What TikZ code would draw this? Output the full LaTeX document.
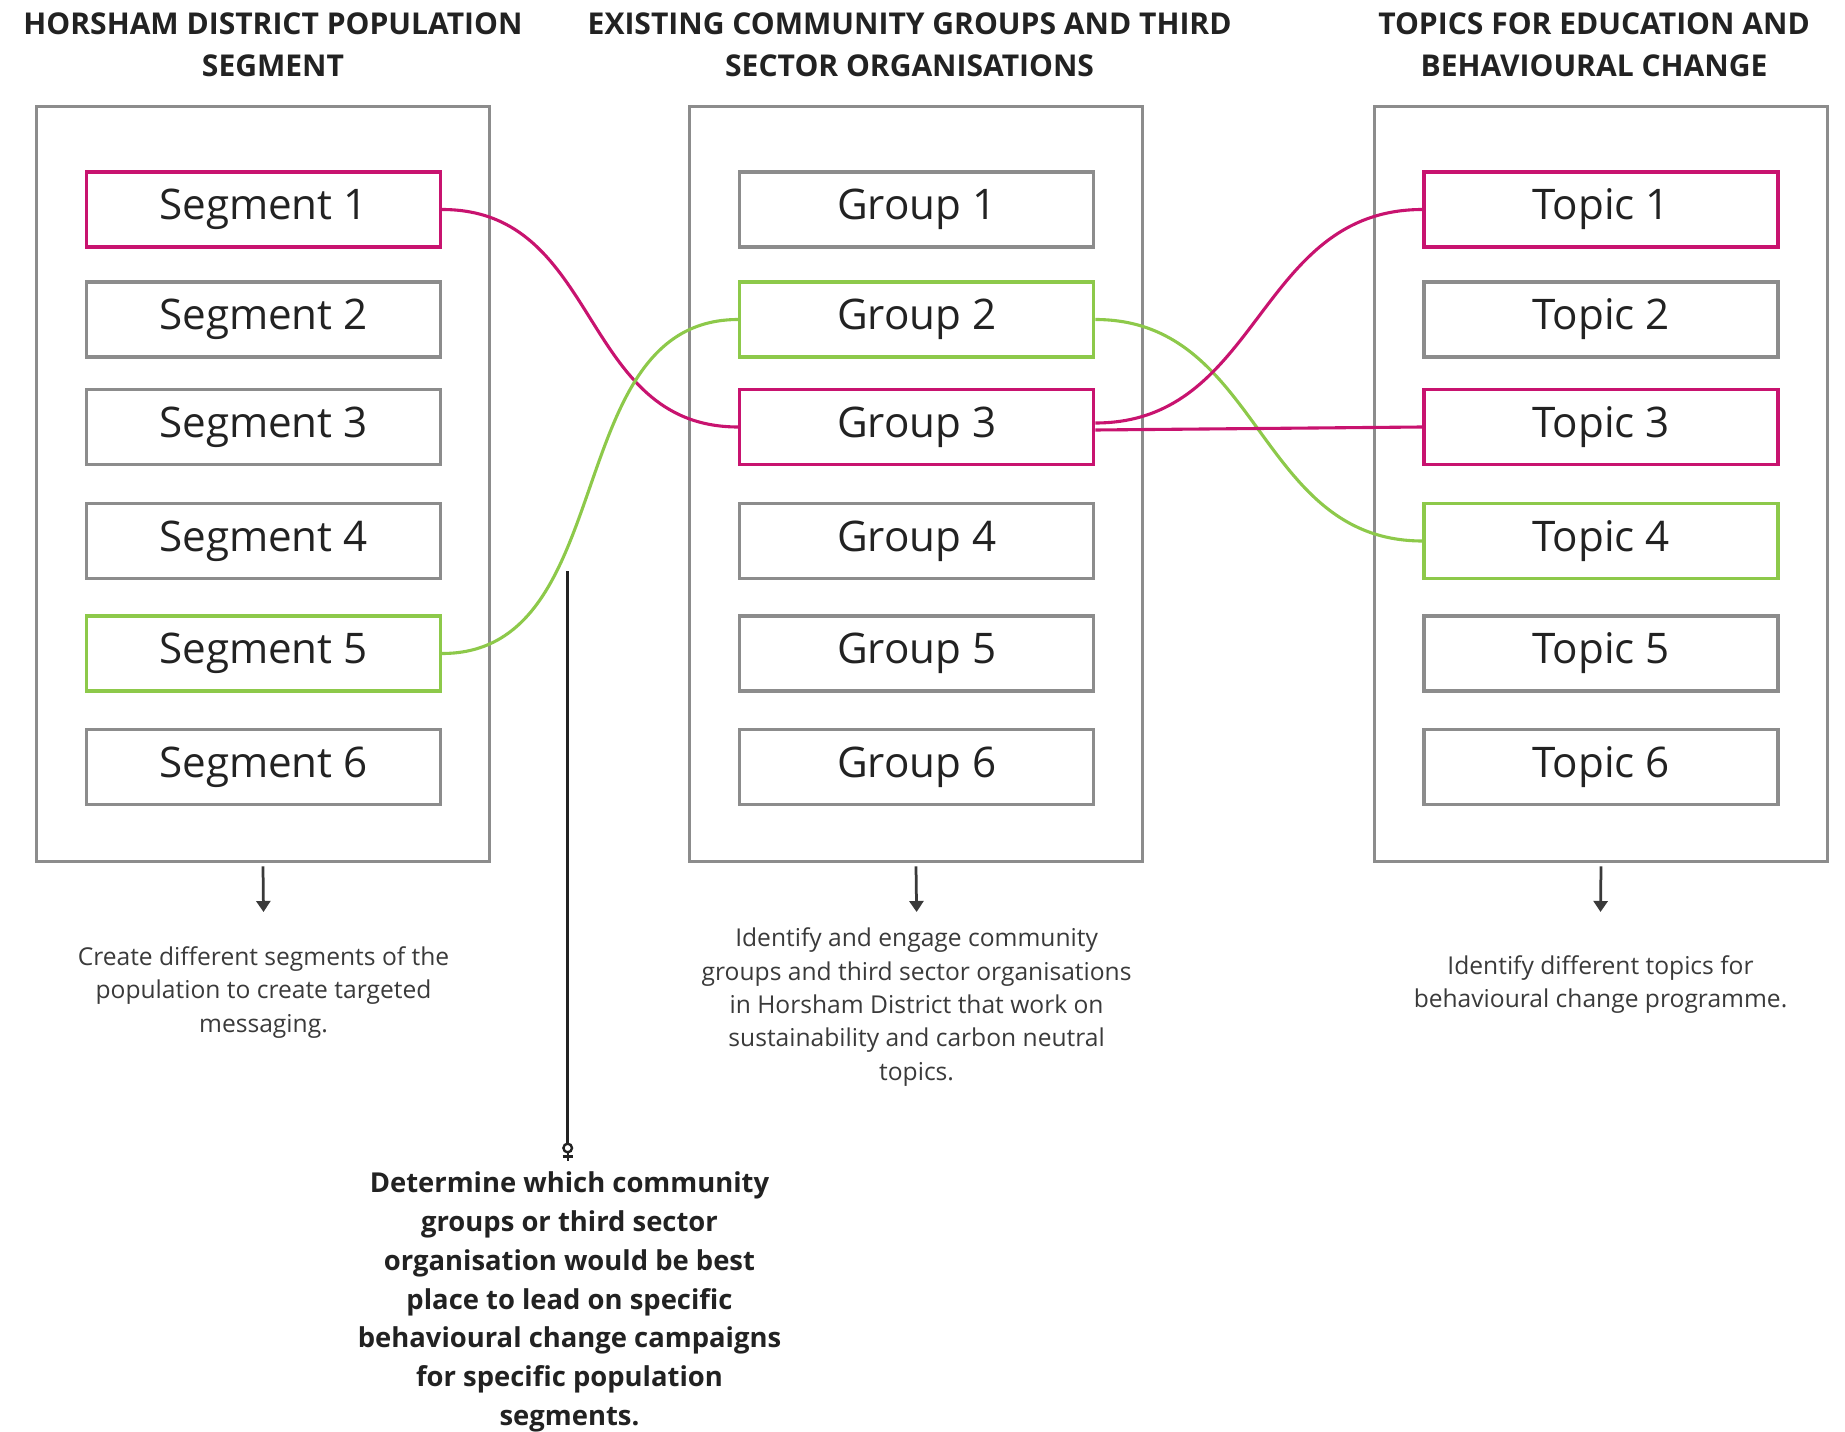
\documentclass[tikz,border=0pt]{standalone}
\usepackage{fontspec}
\setmainfont{Open Sans}
\usetikzlibrary{arrows.meta,calc}
\definecolor{hdcpink}{HTML}{C8136F}
\definecolor{hdcgreen}{HTML}{8DC94A}
\definecolor{hdcgrey}{HTML}{8C8C8C}
\definecolor{hdcink}{HTML}{222222}
\definecolor{hdctext}{HTML}{3A3A3A}

\begin{document}
\begin{tikzpicture}[x=0.02cm,y=-0.02cm,
  panel/.style={draw=hdcgrey,line width=0.06cm,minimum width=9.08cm,minimum height=15.12cm,inner sep=0pt},
  item/.style={draw=hdcgrey,line width=0.064cm,minimum width=7.08cm,minimum height=1.5cm,inner sep=0pt,
    font=\fontsize{24}{28}\selectfont,text=hdcink},
  hot/.style={draw=hdcpink},
  mild/.style={draw=hdcgreen},
  heading/.style={font=\bfseries\fontsize{17.1}{24}\selectfont,text=hdcink,align=center,inner sep=0pt},
  note/.style={font=\fontsize{14}{19}\selectfont,text=hdctext,align=center,inner sep=0pt},
  keynote/.style={font=\bfseries\fontsize{15.6}{22.1}\selectfont,text=hdcink,align=center,inner sep=0pt},
  pinklink/.style={draw=hdcpink,line width=0.062cm},
  greenlink/.style={draw=hdcgreen,line width=0.062cm},
  outarrow/.style={draw=hdctext,line width=0.055cm,-{Triangle[length=0.22cm,width=0.28cm]}},
  leader/.style={draw=hdcink,line width=0.058cm},
]
\useasboundingbox (0,0) rectangle (1845,1432);

% column headings
\node[heading] (h1) at (273,44.5) {HORSHAM DISTRICT POPULATION\\SEGMENT};
\node[heading] (h2) at (909.6,44.5) {EXISTING COMMUNITY GROUPS AND THIRD\\SECTOR ORGANISATIONS};
\node[heading] (h3) at (1594,44.5) {TOPICS FOR EDUCATION AND\\BEHAVIOURAL CHANGE};

% outer panels
\node[panel] (pl) at (263,484) {};
\node[panel] (pm) at (916,484) {};
\node[panel] (pr) at (1601,484) {};

% population segments
\node[item,hot]  (s1) at (263.5,209.5) {Segment 1};
\node[item]      (s2) at (263.5,319.5) {Segment 2};
\node[item]      (s3) at (263.5,427)   {Segment 3};
\node[item]      (s4) at (263.5,541)   {Segment 4};
\node[item,mild] (s5) at (263.5,653.5) {Segment 5};
\node[item]      (s6) at (263.5,767)   {Segment 6};

% community groups
\node[item]      (g1) at (916.75,209.5) {Group 1};
\node[item,mild] (g2) at (916.75,319.5) {Group 2};
\node[item,hot]  (g3) at (916.75,427)   {Group 3};
\node[item]      (g4) at (916.75,541)   {Group 4};
\node[item]      (g5) at (916.75,653.5) {Group 5};
\node[item]      (g6) at (916.75,767)   {Group 6};

% topics
\node[item,hot]  (t1) at (1601,209.5) {Topic 1};
\node[item]      (t2) at (1601,319.5) {Topic 2};
\node[item,hot]  (t3) at (1601,427)   {Topic 3};
\node[item,mild] (t4) at (1601,541)   {Topic 4};
\node[item]      (t5) at (1601,653.5) {Topic 5};
\node[item]      (t6) at (1601,767)   {Topic 6};

% links between segments, groups and topics
\draw[pinklink] (s1.east) .. controls +(160,0) and +(-160,0) .. (g3.west);
\draw[greenlink] (s5.east) .. controls +(180,0) and +(-180,0) .. (g2.west);
\draw[greenlink] (g2.east) .. controls +(166,0) and +(-166,0) .. (t4.west);
\draw[pinklink] ([yshift=0.08cm]g3.east) .. controls +(166,0) and +(-166,0) .. (t1.west);
\draw[pinklink] ([yshift=-0.06cm]g3.east) -- (t3.west);

% explanatory notes under each panel
\coordinate (al) at (263.5,912);
\coordinate (am) at (916.6,912);
\coordinate (ar) at (1600.5,912);
\draw[outarrow] ([yshift=-0.06cm]pl.south) -- (al);
\draw[outarrow] ([yshift=-0.06cm]pm.south) -- (am);
\draw[outarrow] ([yshift=-0.06cm]pr.south) -- (ar);

\node[note] (nl) at (263.5,992.5) {Create different segments of the\\population to create targeted\\messaging.};
\node[note] (nm) at (916.6,1007) {Identify and engage community\\groups and third sector organisations\\in Horsham District that work on\\sustainability and carbon neutral\\topics.};
\node[note] (nr) at (1600.5,984.5) {Identify different topics for\\behavioural change programme.};

% leader to the key conclusion
\coordinate (vt) at (567.7,571);
\coordinate (mk) at (567.7,1143.5);
\draw[leader] (vt) -- (mk);
\draw[leader,line width=0.048cm] (567.7,1148) circle (4.3);
\draw[leader,line width=0.048cm] (567.7,1152.3) -- (567.7,1161);
\draw[leader,line width=0.048cm] (562.7,1156.5) -- (572.7,1156.5);

\node[keynote] (key) at (569.5,1302) {Determine which community\\groups or third sector\\organisation would be best\\place to lead on specific\\behavioural change campaigns\\for specific population\\segments.};
\end{tikzpicture}
\end{document}
